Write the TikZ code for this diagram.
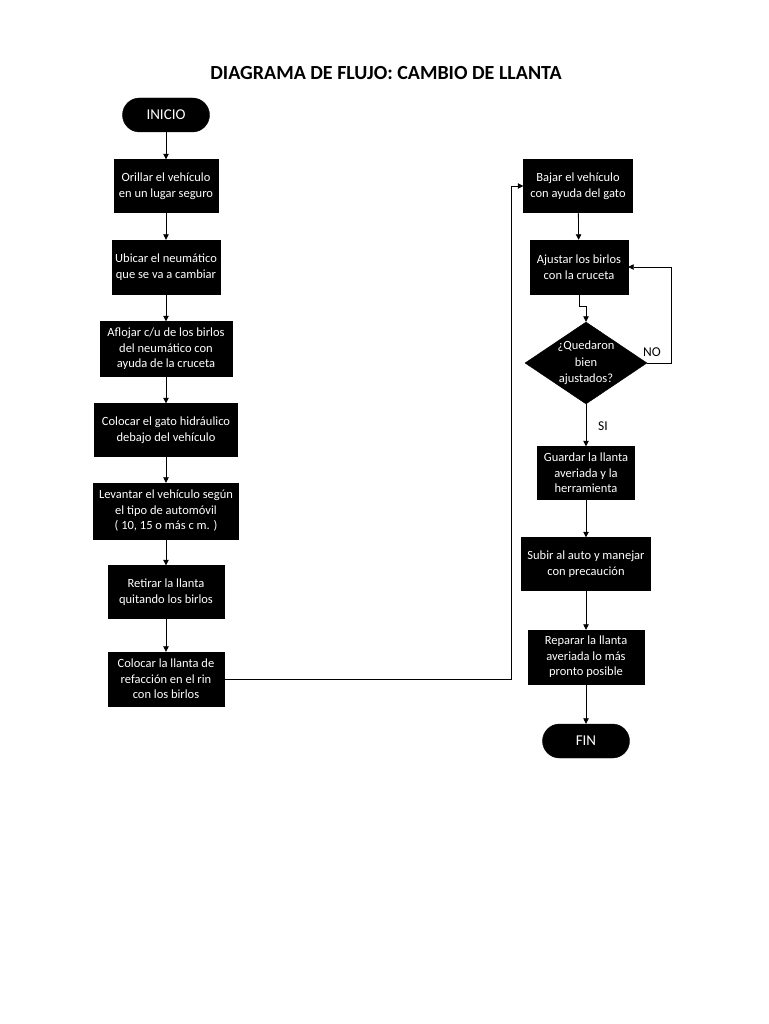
\documentclass[tikz,border=0pt]{standalone}
\usepackage{fontspec}
\setmainfont{Carlito}
\usetikzlibrary{shapes.geometric,arrows.meta}

\begin{document}
\begin{tikzpicture}[x=1pt,y=-1pt,
	caja/.style={draw=black,fill=black,text=white,align=center,inner sep=0pt,
		font=\fontsize{12.5}{15.5}\selectfont},
	terminal/.style={caja,rounded corners=17pt,minimum width=87pt,minimum height=34pt,
		font=\fontsize{15}{17}\selectfont},
	decision/.style={caja,diamond,minimum width=122pt,minimum height=82pt},
	textorombo/.style={text=white,align=center,inner sep=0pt,font=\fontsize{12.5}{16.5}\selectfont},
	etiqueta/.style={font=\fontsize{13.5}{15}\selectfont},
	flecha/.style={draw=black,line width=0.8pt,-{Triangle[length=5.5pt,width=5.5pt]}}]
	\useasboundingbox (0,0) rectangle (768,1024);
	\node[font=\bfseries\fontsize{20}{24}\selectfont] (titulo) at (386,73) {DIAGRAMA DE FLUJO: CAMBIO DE LLANTA};
	% columna izquierda
	\node[terminal] (inicio) at (166,115) {INICIO};
	\node[caja,minimum width=104pt,minimum height=53pt] (p1) at (166,186) {Orillar el vehículo\\en un lugar seguro};
	\node[caja,minimum width=108pt,minimum height=54pt] (p2) at (166,267) {Ubicar el neumático\\que se va a cambiar};
	\node[caja,minimum width=132pt,minimum height=55pt] (p3) at (166,349) {Aflojar c/u de los birlos\\del neumático con\\ayuda de la cruceta};
	\node[caja,minimum width=143pt,minimum height=53pt] (p4) at (166,430) {Colocar el gato hidráulico\\debajo del vehículo};
	\node[caja,minimum width=145pt,minimum height=56pt] (p5) at (166,511) {Levantar el vehículo según\\el tipo de automóvil\\( 10, 15 o más c m. )};
	\node[caja,minimum width=116pt,minimum height=53pt] (p6) at (166,592) {Retirar la llanta\\quitando los birlos};
	\node[caja,minimum width=116pt,minimum height=54pt] (p7) at (166,679) {Colocar la llanta de\\refacción en el rin\\con los birlos};
	% columna derecha
	\node[caja,minimum width=109pt,minimum height=53pt] (p8) at (578,186) {Bajar el vehículo\\con ayuda del gato};
	\node[caja,minimum width=98pt,minimum height=54pt] (p9) at (579,267) {Ajustar los birlos\\con la cruceta};
	\node[decision] (pregunta) at (586,363) {};
	\node[textorombo] (preguntatexto) at (pregunta) {¿Quedaron\\bien\\ajustados?};
	\node[caja,minimum width=97pt,minimum height=53pt] (p10) at (586,473) {Guardar la llanta\\averiada y la\\herramienta};
	\node[caja,minimum width=129pt,minimum height=53pt] (p11) at (586,564) {Subir al auto y manejar\\con precaución};
	\node[caja,minimum width=116pt,minimum height=54pt] (p12) at (586,657) {Reparar la llanta\\averiada lo más\\pronto posible};
	\node[terminal] (fin) at (586,741) {FIN};
	\node[etiqueta] (no) at (652,352) {NO};
	\node[etiqueta] (si) at (603,426) {SI};
	% conectores
	\foreach \a/\b in {inicio/p1,p1/p2,p2/p3,p3/p4,p4/p5,p5/p6,p6/p7,p8/p9,p10/p11,p11/p12,p12/fin}
		\draw[flecha] (\a) -- (\b);
	\coordinate (giro) at (511,679);
	\coordinate (vuelta) at (671,363);
	\draw[flecha] (p7.east) -- (giro) |- (p8.west);
	\draw[flecha] (p9.south) -- ++(0,12) -| (pregunta.north);
	\draw[flecha] (pregunta.east) -- (vuelta) |- (p9.east);
	\draw[flecha] (pregunta.south) -- (p10.north);
\end{tikzpicture}
\end{document}
